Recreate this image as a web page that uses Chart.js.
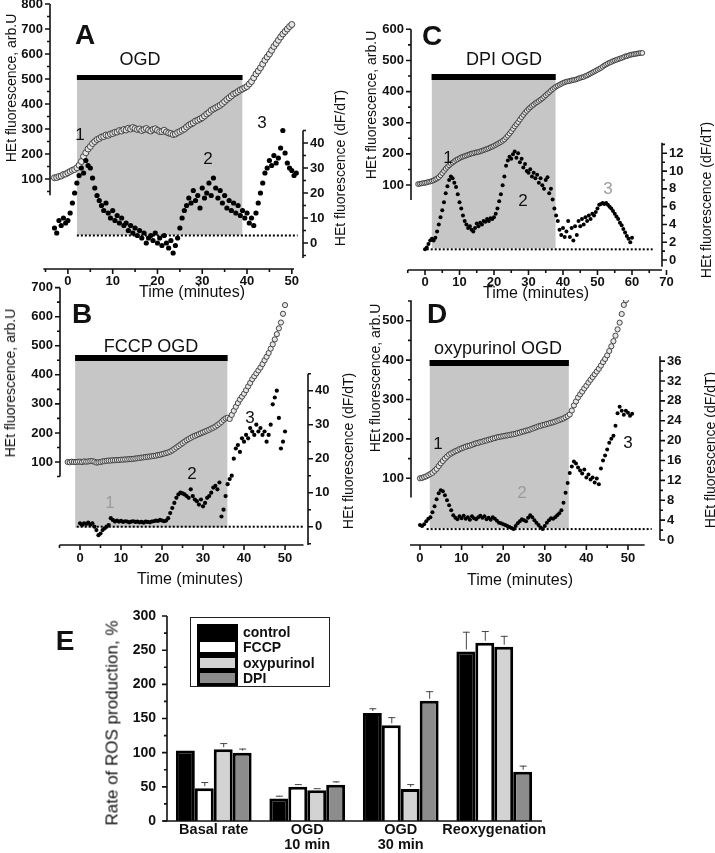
<!DOCTYPE html>
<html>
<head>
<meta charset="utf-8">
<script src="https://cdn.jsdelivr.net/npm/chart.js@4.4.1/dist/chart.umd.min.js"></script>
<style>
  body { margin: 0; background: #fff; }
  #wrap { position: relative; width: 715px; height: 853px; overflow: hidden; font-family: 'Liberation Sans', Arial, sans-serif; color: #111; }
  canvas { position: absolute; left: 0; top: 0; }
  .note { position: absolute; transform: translate(-50%, -50%); white-space: nowrap; line-height: 1; }
  .note.vert { transform: translate(-50%, -50%) rotate(-90deg); }
  #legend { position: absolute; left: 190px; top: 617px; width: 140px; height: 70px; border: 1px solid #222; box-sizing: border-box; }
  #legend .sw { position: absolute; left: 6px; width: 41px; height: 16px; border: 3px solid #000; box-sizing: border-box; }
  #legend .lb { position: absolute; left: 52px; font-size: 14px; font-weight: bold; line-height: 16px; }
</style>
</head>
<body>
<div id="wrap">
  <canvas id="cA" width="715" height="853"></canvas>
  <canvas id="cB" width="715" height="853"></canvas>
  <canvas id="cC" width="715" height="853"></canvas>
  <canvas id="cD" width="715" height="853"></canvas>
  <canvas id="cE" width="715" height="853"></canvas>
  <div id="legend"></div>
</div>
<script>
// ---- A: control OGD (time in minutes)
const aOgd = [2, 39];
const aBaseline = 3;
const aHetStart = -3, aHetStep = 0.5;
const aHet = [105,106,110,112,118,120,125,130,135,138, 145,155,170,190,205,220,230,242,250,258,
  262,268,270,276,275,280,282,287,288,294, 292,298,296,303,300,306,302,298,300,294,
  298,302,296,292,298,301,295,290,290,295, 288,284,282,278,280,286,290,295,300,308,
  315,320,325,332,335,340,345,352,360,366, 375,380,385,390,395,402,410,418,425,432,
  440,444,450,456,460,465,470,480,490,505, 520,532,545,560,575,588,600,615,630,642, 655,668,680,690,700,710,718];
const aRateStart = -3, aRateStep = 0.5;
const aRate = [6,4,9,7,10,8,9,12,16,20, 24,27,30,28,33,31,30,26,22,19, 17,15,13,16,12,10,13,9,11,8,
  10,7,8,5,7,4,6,3,5,2, 4,0,2,3,1,4,0,2,-1,3, 0,-2,1,-4,-1,2,6,10,13,15, 18,16,21,17,19,14,22,18,20,24,
  19,26,22,18,21,16,19,14,17,13, 16,12,15,11,13,10,12,8,10,7, 12,16,20,24,28,30,33,31,35,32, 34,38,45,36,32,30,29,27,28];
const aTimeTicks = [0, 10, 20, 30, 40, 50];
const aHetTicks = [100, 200, 300, 400, 500, 600, 700, 800];
const aRateTicks = [0, 10, 20, 30, 40];

// ---- B: FCCP OGD
const bOgd = [-1.2, 36];
const bBaseline = 0;
const bHetStart = -3, bHetStep = 0.5;
const bHet = [100,99,101,100,100,101,101,100,102,101, 102,103,103,101,98,99,100,102,103,104,
  105,105,106,106,107,107,108,108,109,109, 110,110,111,112,113,114,115,116,117,118,
  119,120,121,122,124,125,127,129,131,133, 136,140,145,150,155,160,165,170,175,179,
  183,187,190,193,196,199,202,205,208,211, 215,218,222,227,232,238,245,250,252,248,
  262,276,290,303,315,325,335,347,360,372, 385,395,405,415,425,437,450,462,475,490, 505,522,540,560,580,610,640];
const bRateStart = 0, bRateStep = 0.5;
const bRate = [1,0.5,1,0.8,1.2,0.6,1,0,-1,-2.5, -2,-1,-0.5,0,0.5,2.5,2,1.5,1.8,1.5, 1.7,1.4,1.6,1.5,1.3,1.5,1.6,1.4,1.5,1.3,
  1.4,1.2,1.5,1.4,1.3,1.5,1.6,1.8,1.7,2, 1.8,1.6,1.8,2.5,4,5.5,7,8.5,9.5,10, 9.8,9.5,9,8.5,11,9,8,7.5,6.5,8,
  6,7,8.5,9,10,11.5,12,11,13,3, 5,9,12.5,14,15,20,23,24,22,26, 25,27,26,29,28,27,30,28,29,27, 28,25,27,30,36,38,40,32,23,25, 28];
const bTimeTicks = [0, 10, 20, 30, 40, 50];
const bHetTicks = [100, 200, 300, 400, 500, 600, 700];
const bRateTicks = [0, 10, 20, 30, 40];

// ---- C: DPI OGD
const cOgd = [1.9, 37.9];
const cBaseline = 1.2;
const cHetStart = -2, cHetStep = 0.5;
const cHet = [103,104,105,106,107,108,110,111,113,115, 118,121,125,131,138,145,152,158,163,168,
  172,176,180,183,186,189,191,193,195,197, 199,201,202,204,205,206,208,210,212,214,
  216,218,221,223,226,229,232,235,238,242, 246,252,258,265,272,280,288,295,302,310,
  318,325,332,338,344,349,354,358,363,366, 370,374,378,383,388,393,398,403,408,412,
  416,419,422,425,428,430,432,433,434,436, 437,438,440,442,444,446,447,450,452,455,
  458,461,464,467,470,473,476,480,484,487, 490,493,495,498,500,502,504,506,508,510,
  513,514,516,518,519,520,521,522,523,524, 524];
const cRateStart = 0, cRateStep = 0.5;
const cRate = [1.2,1.4,1.8,2.2,2.4,2.2,2.5,3.2,4,4.8, 5.6,6.5,7.5,8.3,9,9.4,9.2,8.7,8.2,7.4, 6.5,5.8,5,4.4,4,3.6,3.8,3.4,3.2,3.6,
  4.1,3.8,4.2,4,4.4,4.3,4.6,4.4,4.7,4.6, 4.8,5.2,5.8,6.6,7.4,8.4,9.4,10.6,11.2,11.6, 11.4,11.9,12.2,11.5,12,11,11.4,10.4,10.8,10,
  9.8,10.2,9.4,9.8,9.2,9.6,8.7,9.2,8.4,8, 9,9.3,7.5,8,6.8,5.8,5,4.4,3.4,2.8, 3.6,2.6,3.2,4.4,2.6,3.6,2.2,3.8,2.8,4.4,
  3.8,4.6,4,4.8,4.4,5,4.6,5.2,5,5.4, 5.8,6.2,6.3,6.4,6.3,6.4,6.2,6,5.8,5.5, 5.2,4.9,4.6,4.2,3.9,3.5,3.1,2.7,2.4,2, 2.5];
const cTimeTicks = [0, 10, 20, 30, 40, 50, 60, 70];
const cHetTicks = [100, 200, 300, 400, 500, 600];
const cRateTicks = [0, 2, 4, 6, 8, 10, 12];

// ---- D: oxypurinol OGD
const dOgd = [2.3, 35.8];
const dBaseline = 2.2;
const dHetStart = 0, dHetStep = 0.5;
const dHet = [100,101,103,105,108,111,114,119,124,131, 138,144,150,155,160,163,166,169,171,174,
  176,178,180,182,183,185,187,189,190,192, 193,195,196,198,199,201,202,204,205,206,
  207,208,209,210,211,212,213,215,216,218, 219,221,222,224,226,228,230,232,233,235,
  236,238,239,241,242,244,246,248,250,252, 255,258,262,272,285,295,305,313,320,328,
  335,343,350,357,364,371,378,386,395,403, 412,423,435,448,462,478,495,517,540,552];
const dRateStart = 0, dRateStep = 0.5;
const dRate = [3,2.8,3.2,3.8,4.3,4.6,5.6,6.8,8.2,9.4, 10,9.8,9,8,7,6,5,4.5,4.2,4.8, 4.4,4.9,4.3,4.6,4.1,4.8,4.4,4.2,4.6,4.9,
  4.5,4.8,4.2,4.5,4.1,4.6,4.3,3.9,3.5,3.4, 3.2,3,2.8,2.6,2.4,2.2,2.8,3.4,3.8,4.2, 4,3.8,4.5,5,4.6,4,3.5,3,2.5,2.2,
  2.8,3.5,4,4.4,4.3,4.6,5,5.4,6,7.5, 9.5,11.5,13.5,14.8,15.8,15.4,14.6,14,13.4,14.2, 12.6,13.2,12.2,12.6,11.6,12.4,11.2,14.4,16,17,
  18.2,19.6,20.4,21,23,25.5,26.8,26,25.2,26, 25.6,25,25.4];
const dTimeTicks = [0, 10, 20, 30, 40, 50];
const dHetTicks = [100, 200, 300, 400, 500];
const dRateTicks = [0, 4, 8, 12, 16, 20, 24, 28, 32, 36];

// ---- E: rate of ROS production
const eCategories = [['Basal rate'], ['OGD', '10 min'], ['OGD', '30 min'], ['Reoxygenation']];
const eSeriesNames = ['control', 'FCCP', 'oxypurinol', 'DPI'];
const eControl = [103, 33, 158, 248];
const eFccp = [48, 50, 140, 261];
const eOxypurinol = [105, 45, 47, 255];
const eDpi = [100, 53, 176, 72];
const eControlErr = [0, 4, 7, 29];
const eFccpErr = [9, 4, 12, 17];
const eOxypurinolErr = [9, 3, 7, 16];
const eDpiErr = [6, 5, 14, 9];
const eTicks = [0, 50, 100, 150, 200, 250, 300];

const eColors = ['#000000', '#ffffff', '#d3d3d3', '#8c8c8c'];

Chart.defaults.font.family = "'Liberation Sans', Arial, sans-serif";
Chart.defaults.color = '#111';

const tickFont = { size: 13, weight: 'bold' };
const noGrid = { display: false, drawTicks: false };

// tick marks between the labelled ones
function minorsOf(majors, lo, hi) {
  const step = majors[1] - majors[0], out = [];
  for (let v = majors[0] - step / 2; v <= hi + 1e-9; v += step) {
    if (v >= lo - 1e-9) out.push(v);
  }
  return out;
}

// axis lines + tick marks, drawn only over the span each axis covers
function axisLines(axes) {
  return {
    id: 'axisLines',
    afterDraw(chart) {
      const ctx = chart.ctx, area = chart.chartArea;
      ctx.save();
      ctx.strokeStyle = '#111';
      axes.forEach(ax => {
        const s = chart.scales[ax.id];
        const at = v => s.getPixelForValue(v);
        const minors = ax.majors.length > 1 ? minorsOf(ax.majors, ax.lo, ax.hi) : [];
        ctx.lineWidth = 1.6;
        ctx.beginPath();
        if (ax.side === 'bottom') {
          const y = area.bottom;
          ctx.moveTo(at(ax.lo), y); ctx.lineTo(at(ax.hi), y);
          ax.majors.forEach(v => { ctx.moveTo(at(v), y); ctx.lineTo(at(v), y + 5); });
          minors.forEach(v => { ctx.moveTo(at(v), y); ctx.lineTo(at(v), y + 3); });
        } else {
          const x = ax.side === 'left' ? area.left : area.right;
          const d = ax.side === 'left' ? -1 : 1;
          ctx.moveTo(x, at(ax.lo)); ctx.lineTo(x, at(ax.hi));
          ax.majors.forEach(v => { ctx.moveTo(x, at(v)); ctx.lineTo(x + d * 5, at(v)); });
          minors.forEach(v => { ctx.moveTo(x, at(v)); ctx.lineTo(x + d * 3, at(v)); });
        }
        ctx.stroke();
      });
      ctx.restore();
    }
  };
}

const fitScale = (w, h) => s => {
  if (w) s.width = w;
  if (h) s.height = h;
  s.paddingTop = s.paddingBottom = s.paddingLeft = s.paddingRight = 0;
};

function makePanel(id, p) {
  const pts = (t0, step, vals) => vals.map((v, i) => ({ x: t0 + i * step, y: v }));
  const seg = (a, b, y) => [{ x: a, y: y }, { x: b, y: y }];
  new Chart(document.getElementById(id), {
    type: 'scatter',
    data: {
      datasets: [
        { data: pts(...p.rate), yAxisID: 'yR', pointRadius: p.rateR, backgroundColor: '#000', borderWidth: 0, order: 1 },
        { data: pts(...p.het), yAxisID: 'yL', pointRadius: p.hetR, backgroundColor: '#e6e6e6', borderColor: '#333', borderWidth: 0.9, order: 2 },
        { type: 'line', data: seg(p.base[1], p.base[2], p.base[0]), yAxisID: 'yR', borderColor: '#000', borderWidth: 2, borderDash: [2, 2], pointRadius: 0, order: 3 },
        { type: 'line', data: seg(p.ogd[0], p.ogd[1], p.bar[0]), yAxisID: 'yL', borderColor: '#000', borderWidth: p.bar[1], borderCapStyle: 'butt', pointRadius: 0, order: 4 },
        { type: 'line', data: seg(p.ogd[0], p.ogd[1], p.shade[1]), yAxisID: 'yL', borderColor: 'rgba(0,0,0,0)', backgroundColor: '#c6c6c6', fill: { value: p.shade[0] }, pointRadius: 0, order: 5 }
      ]
    },
    options: {
      responsive: false, animation: false, events: [],
      layout: { autoPadding: false, padding: { left: p.area.l - 45, right: 715 - p.area.r - 40, top: p.area.t, bottom: 853 - p.area.b - 30 } },
      plugins: { legend: { display: false }, tooltip: { enabled: false } },
      scales: {
        x: {
          type: 'linear', position: 'bottom', min: p.x.min, max: p.x.max,
          afterBuildTicks: s => { s.ticks = p.x.ticks.map(v => ({ value: v })); },
          afterFit: fitScale(0, 30),
          grid: noGrid, border: { display: false },
          ticks: { font: tickFont, color: '#111', padding: p.x.pad, autoSkip: false, maxRotation: 0 }
        },
        yL: {
          type: 'linear', position: 'left', min: p.yL.min, max: p.yL.max,
          afterBuildTicks: s => { s.ticks = p.yL.ticks.map(v => ({ value: v })); },
          afterFit: fitScale(45, 0),
          grid: noGrid, border: { display: false },
          ticks: { font: tickFont, color: '#111', padding: 7, autoSkip: false }
        },
        yR: {
          type: 'linear', position: 'right', min: p.yR.min, max: p.yR.max,
          afterBuildTicks: s => { s.ticks = p.yR.ticks.map(v => ({ value: v })); },
          afterFit: fitScale(40, 0),
          grid: noGrid, border: { display: false },
          ticks: { font: tickFont, color: '#111', padding: 7, autoSkip: false }
        }
      }
    },
    plugins: [axisLines([
      { id: 'x', side: 'bottom', lo: p.x.lo, hi: p.x.hi, majors: p.x.ticks },
      { id: 'yL', side: 'left', lo: p.yL.lo, hi: p.yL.hi, majors: p.yL.ticks },
      { id: 'yR', side: 'right', lo: p.yR.lo, hi: p.yR.hi, majors: p.yR.ticks }
    ])]
  });
}

makePanel('cA', {
  area: { l: 50, r: 303, t: 3, b: 269 },
  x: { min: -4, max: 52.5, ticks: aTimeTicks, lo: -5.5, hi: 50.5, pad: 5 },
  yL: { min: -260, max: 804, ticks: aHetTicks, lo: 35, hi: 800 },
  yR: { min: -10.4, max: 96, ticks: aRateTicks, lo: -6, hi: 45 },
  het: [aHetStart, aHetStep, aHet], hetR: 3,
  rate: [aRateStart, aRateStep, aRate], rateR: 2.6,
  ogd: aOgd, shade: [-124, 496], bar: [506, 5],
  base: [aBaseline, 2, 51.3]
});

makePanel('cB', {
  area: { l: 60, r: 308, t: 287, b: 545 },
  x: { min: -4.88, max: 55.6, ticks: bTimeTicks, lo: -5, hi: 54.5, pad: 6 },
  yL: { min: -185.6, max: 702.2, ticks: bHetTicks, lo: 50, hi: 700 },
  yR: { min: -5.38, max: 70.5, ticks: bRateTicks, lo: -5.4, hi: 45 },
  het: [bHetStart, bHetStep, bHet], hetR: 2.6,
  rate: [bRateStart, bRateStep, bRate], rateR: 2.1,
  ogd: bOgd, shade: [-125, 462], bar: [458, 6],
  base: [bBaseline, -0.8, 54.4]
});

makePanel('cC', {
  area: { l: 411, r: 662, t: 29, b: 270 },
  x: { min: -4.06, max: 68.7, ticks: cTimeTicks, lo: -5, hi: 68.7, pad: 5 },
  yL: { min: -173, max: 601, ticks: cHetTicks, lo: 52, hi: 600 },
  yR: { min: -1.125, max: 25.98, ticks: cRateTicks, lo: -0.75, hi: 13.2 },
  het: [cHetStart, cHetStep, cHet], hetR: 2.4,
  rate: [cRateStart, cRateStep, cRate], rateR: 2,
  ogd: cOgd, shade: [-103, 442.6], bar: [446.8, 6],
  base: [cBaseline, 0.5, 66]
});

makePanel('cD', {
  area: { l: 411, r: 660, t: 300, b: 545 },
  x: { min: -2.16, max: 57.7, ticks: dTimeTicks, lo: -2.4, hi: 54, pad: 6 },
  yL: { min: -69.3, max: 552.5, ticks: dHetTicks, lo: 51, hi: 552 },
  yR: { min: -1.0, max: 48.3, ticks: dRateTicks, lo: 0, hi: 37 },
  het: [dHetStart, dHetStep, dHet], hetR: 2.6,
  rate: [dRateStart, dRateStep, dRate], rateR: 2,
  ogd: dOgd, shade: [-27, 385], bar: [392.6, 6],
  base: [dBaseline, 1.6, 55.7]
});

// ---- E: grouped bars with upward error bars
const eValues = [eControl, eFccp, eOxypurinol, eDpi];
const eErrors = [eControlErr, eFccpErr, eOxypurinolErr, eDpiErr];

const errorBars = {
  id: 'errorBars',
  afterDatasetsDraw(chart) {
    const ctx = chart.ctx, y = chart.scales.y;
    ctx.save();
    ctx.strokeStyle = '#444';
    ctx.lineWidth = 1;
    chart.data.datasets.forEach((ds, i) => {
      chart.getDatasetMeta(i).data.forEach((bar, j) => {
        const err = ds.errors[j];
        if (!err) return;
        const top = y.getPixelForValue(ds.data[j] + err);
        ctx.beginPath();
        ctx.moveTo(bar.x + 0.5, bar.y - 2);
        ctx.lineTo(bar.x + 0.5, top);
        ctx.moveTo(bar.x - 3, top + 0.5);
        ctx.lineTo(bar.x + 4, top + 0.5);
        ctx.stroke();
      });
    });
    ctx.restore();
  }
};

new Chart(document.getElementById('cE'), {
  type: 'bar',
  data: {
    labels: eCategories,
    datasets: eSeriesNames.map((name, i) => ({
      label: name, data: eValues[i], errors: eErrors[i],
      backgroundColor: eColors[i], borderColor: '#000', borderWidth: 3,
      categoryPercentage: 0.81, barPercentage: 1
    }))
  },
  options: {
    responsive: false, animation: false, events: [],
    layout: { autoPadding: false, padding: { left: 167 - 45, right: 715 - 541, top: 610, bottom: 2 } },
    plugins: { legend: { display: false }, tooltip: { enabled: false } },
    scales: {
      x: {
        afterFit: fitScale(0, 30),
        grid: noGrid, border: { display: false },
        ticks: { font: { size: 14.5, weight: 'bold', lineHeight: 1.02 }, color: '#111', padding: 2, maxRotation: 0, autoSkip: false }
      },
      y: {
        min: 0, max: 308.8,
        afterBuildTicks: s => { s.ticks = eTicks.map(v => ({ value: v })); },
        afterFit: fitScale(45, 0),
        grid: noGrid, border: { display: false },
        ticks: { font: { size: 14, weight: 'bold' }, color: '#111', padding: 11 }
      }
    }
  },
  plugins: [errorBars, axisLines([
    { id: 'y', side: 'left', lo: 0, hi: 300, majors: eTicks },
    { id: 'x', side: 'bottom', lo: -0.543, hi: 3.51, majors: [] }
  ])]
});

// legend box for E
const legend = document.getElementById('legend');
eSeriesNames.forEach((name, i) => {
  const sw = document.createElement('div');
  sw.className = 'sw';
  sw.style.top = (6 + i * 15.3) + 'px';
  sw.style.background = eColors[i];
  legend.appendChild(sw);
  const lb = document.createElement('div');
  lb.className = 'lb';
  lb.style.top = (6 + i * 15.3) + 'px';
  lb.textContent = name;
  legend.appendChild(lb);
});

// panel letters, treatment labels, phase numbers, axis titles
const notes = [
  ['A', 85, 35, 28, true], ['OGD', 140, 59, 18], ['1', 80, 134, 17], ['2', 208, 158, 17], ['3', 262, 122, 17],
  ['HEt fluorescence, arb.U', 11, 88, 14, false, false, true],
  ['HEt fluorescence (dF/dT)', 340, 168, 14, false, false, true],
  ['Time (minutes)', 192, 292, 16],

  ['B', 82, 314, 28, true], ['FCCP OGD', 151, 346, 18], ['1', 110, 502, 17, false, true], ['2', 192, 473, 17], ['3', 250, 417, 17],
  ['HEt fluorescence, arb.U', 10, 383, 14, false, false, true],
  ['HEt fluorescence (dF/dT)', 348, 451, 14, false, false, true],
  ['Time (minutes)', 190, 579, 16],

  ['C', 432, 36, 28, true], ['DPI OGD', 504, 59, 18], ['1', 448, 157, 17], ['2', 523, 200, 17], ['3', 608, 188, 17, false, true],
  ['HEt fluorescence, arb.U', 371, 105, 14, false, false, true],
  ['HEt fluorescence (dF/dT)', 706, 200, 14, false, false, true],
  ['Time (minutes)', 536, 293, 16],

  ['D', 437, 314, 28, true], ['oxypurinol OGD', 498, 348, 18], ['1', 438, 443, 17], ['2', 522, 492, 17, false, true], ['3', 628, 442, 17],
  ['HEt fluorescence, arb.U', 375, 378, 14, false, false, true],
  ['HEt fluorescence (dF/dT)', 710, 450, 14, false, false, true],
  ['Time (minutes)', 520, 580, 16],

  ['E', 65, 641, 28, true],
  ['Rate of ROS production, %', 112, 723, 17, false, false, true]
];
const wrap = document.getElementById('wrap');
notes.forEach(([text, x, y, size, bold, gray, vert]) => {
  const d = document.createElement('div');
  d.className = 'note' + (vert ? ' vert' : '');
  d.textContent = text;
  d.style.left = x + 'px';
  d.style.top = y + 'px';
  d.style.fontSize = size + 'px';
  d.style.fontWeight = bold ? 'bold' : 'normal';
  d.style.color = gray ? '#9c9c9c' : '#111';
  wrap.appendChild(d);
});
</script>
</body>
</html>
